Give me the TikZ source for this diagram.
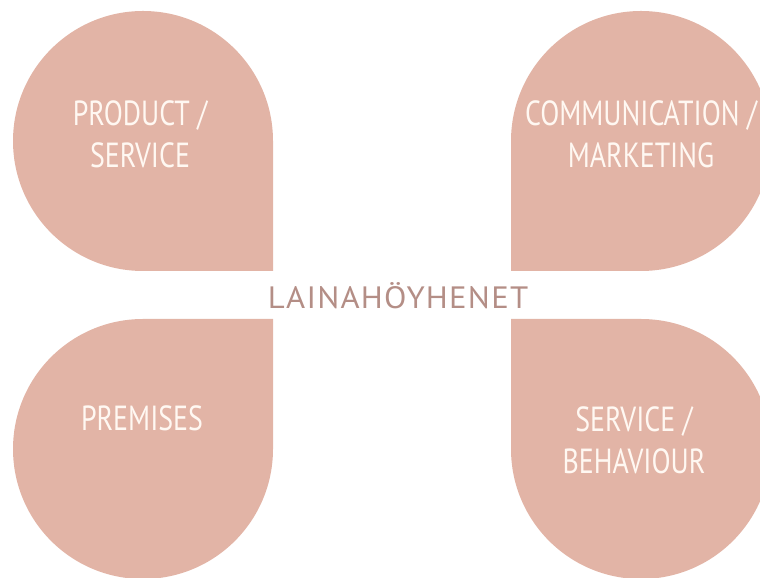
\documentclass[tikz,border=0pt]{standalone}
\usepackage{fontspec}
\setmainfont{PT Sans}
\newfontfamily\petalfont[FakeStretch=0.8]{PT Sans}
\newfontfamily\hubfont[LetterSpace=4,FakeStretch=1.06]{PT Sans}
\definecolor{petalfill}{HTML}{E2B4A6}
\definecolor{petaltext}{HTML}{FFF8F2}
\definecolor{hubtext}{HTML}{B48E86}
\begin{document}
\begin{tikzpicture}[x=1bp,y=1bp,
  petal/.style={fill=petalfill},
  petallabel/.style={text=petaltext, align=center, font=\petalfont\fontsize{35}{42}\selectfont, inner sep=0pt},
  hublabel/.style={text=hubtext, font=\hubfont\fontsize{31}{36}\selectfont, inner sep=0pt}]
\useasboundingbox (0,0) rectangle (760,578);
\clip (0,0) rectangle (760,578);
% four petals, each with its sharp corner toward the middle
\fill[petal] (273,307) -- (143,307) arc[start angle=270, end angle=0, radius=130] -- cycle;
\fill[petal] (511,307) -- (511,437) arc[start angle=180, end angle=-90, radius=130] -- cycle;
\fill[petal] (273,259) -- (273,129) arc[start angle=0, end angle=-270, radius=130] -- cycle;
\fill[petal] (511,259) -- (641,259) arc[start angle=90, end angle=-180, radius=130] -- cycle;
% labels
\node[petallabel] (product) at (140,444) {PRODUCT /\\SERVICE};
\node[petallabel] (comm) at (641,444) {COMMUNICATION /\\MARKETING};
\node[petallabel] (premises) at (142,160) {PREMISES};
\node[petallabel] (behaviour) at (634,138) {SERVICE /\\BEHAVIOUR};
\node[hublabel] (hub) at (398,282) {LAINAHÖYHENET};
\end{tikzpicture}
\end{document}
